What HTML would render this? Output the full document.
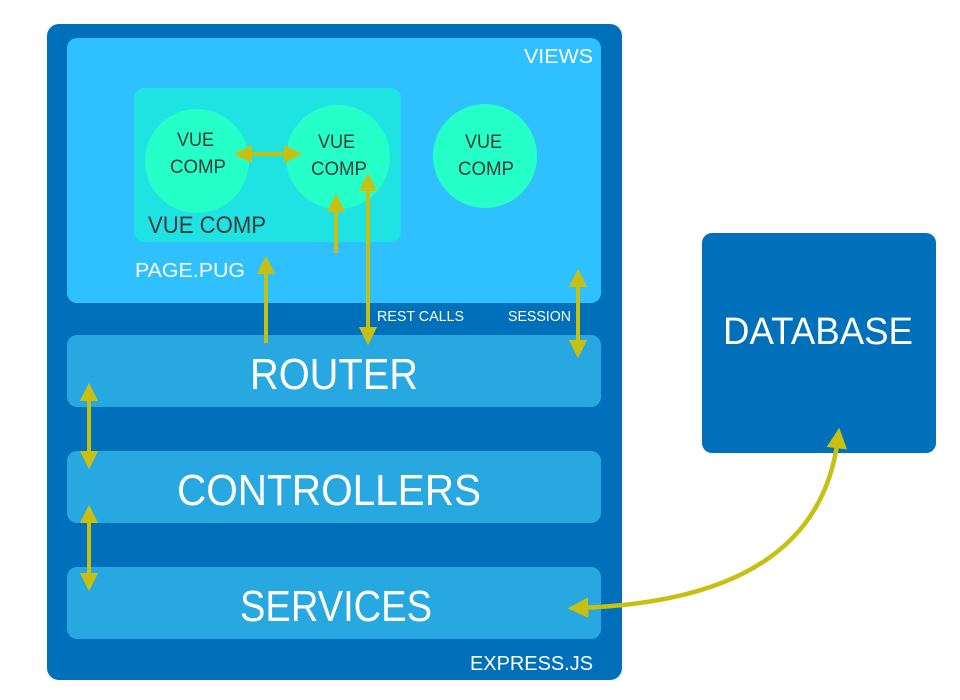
<!DOCTYPE html>
<html><head><meta charset="utf-8"><style>
html,body{margin:0;padding:0;background:#fff;width:960px;height:700px;overflow:hidden}
svg text{font-family:"Liberation Sans",sans-serif}
</style></head><body>
<svg width="960" height="700" viewBox="0 0 960 700" xmlns="http://www.w3.org/2000/svg">
<defs>
<marker id="h" viewBox="0 0 10 10" refX="5" refY="5" markerWidth="4.6" markerHeight="4.6" orient="auto-start-reverse" markerUnits="strokeWidth">
<path d="M0,0 L10,5 L0,10 z" fill="#c8c010"/></marker>
</defs>
<rect x="47" y="24" width="575" height="656" rx="12" fill="#0070bb"/>
<rect x="67" y="38" width="534" height="265" rx="10" fill="#2ec0ff"/>
<rect x="134" y="88" width="267" height="154" rx="10" fill="#1fe2e3"/>
<circle cx="197" cy="161" r="52" fill="#25ffc8"/>
<circle cx="338" cy="157" r="52" fill="#25ffc8"/>
<circle cx="485" cy="156" r="52" fill="#25ffc8"/>
<g fill="#3a3a3a" font-size="19">
<text x="177" y="146" textLength="37" lengthAdjust="spacingAndGlyphs">VUE</text><text x="170" y="173" textLength="56" lengthAdjust="spacingAndGlyphs">COMP</text>
<text x="318" y="148" textLength="37" lengthAdjust="spacingAndGlyphs">VUE</text><text x="311" y="175" textLength="56" lengthAdjust="spacingAndGlyphs">COMP</text>
<text x="465" y="148" textLength="37" lengthAdjust="spacingAndGlyphs">VUE</text><text x="458" y="175" textLength="56" lengthAdjust="spacingAndGlyphs">COMP</text>
<text x="148" y="233" font-size="24" textLength="118" lengthAdjust="spacingAndGlyphs">VUE COMP</text>
</g>
<g fill="#fff">
<text x="524" y="63" font-size="20" textLength="69" lengthAdjust="spacingAndGlyphs">VIEWS</text>
<text x="135" y="277" font-size="20" textLength="110" lengthAdjust="spacingAndGlyphs">PAGE.PUG</text>
<text x="377" y="321" font-size="15" textLength="87" lengthAdjust="spacingAndGlyphs">REST CALLS</text>
<text x="508" y="321" font-size="15" textLength="63" lengthAdjust="spacingAndGlyphs">SESSION</text>
</g>
<rect x="67" y="335" width="534" height="72" rx="10" fill="#28a8e0"/>
<rect x="67" y="451" width="534" height="72" rx="10" fill="#28a8e0"/>
<rect x="67" y="567" width="534" height="72" rx="10" fill="#28a8e0"/>
<g fill="#fff" font-size="44">
<text x="250" y="389" textLength="168" lengthAdjust="spacingAndGlyphs">ROUTER</text>
<text x="177" y="505" textLength="304" lengthAdjust="spacingAndGlyphs">CONTROLLERS</text>
<text x="240" y="621" textLength="192" lengthAdjust="spacingAndGlyphs">SERVICES</text>
</g>
<text x="470" y="670" fill="#fff" font-size="20" textLength="123" lengthAdjust="spacingAndGlyphs">EXPRESS.JS</text>
<rect x="702" y="233" width="234" height="220" rx="10" fill="#0070bb"/>
<text x="723" y="344" fill="#fff" font-size="38" textLength="190" lengthAdjust="spacingAndGlyphs">DATABASE</text>
<g stroke="#c8c010" stroke-width="4" fill="none">
<line x1="243" y1="154" x2="293" y2="154" marker-start="url(#h)" marker-end="url(#h)"/>
<line x1="336" y1="253" x2="336" y2="203" marker-end="url(#h)"/>
<line x1="368" y1="182" x2="368" y2="336" marker-start="url(#h)" marker-end="url(#h)"/>
<line x1="266" y1="343" x2="266" y2="265" marker-end="url(#h)"/>
<line x1="578" y1="278" x2="578" y2="349" marker-start="url(#h)" marker-end="url(#h)"/>
<line x1="89" y1="392" x2="89" y2="460" marker-start="url(#h)" marker-end="url(#h)"/>
<line x1="89" y1="514" x2="89" y2="582" marker-start="url(#h)" marker-end="url(#h)"/>
<path d="M578,608 C700,604 822,570 838,438" stroke-width="4.5" marker-start="url(#h)" marker-end="url(#h)"/>
</g>
</svg>
</body></html>
